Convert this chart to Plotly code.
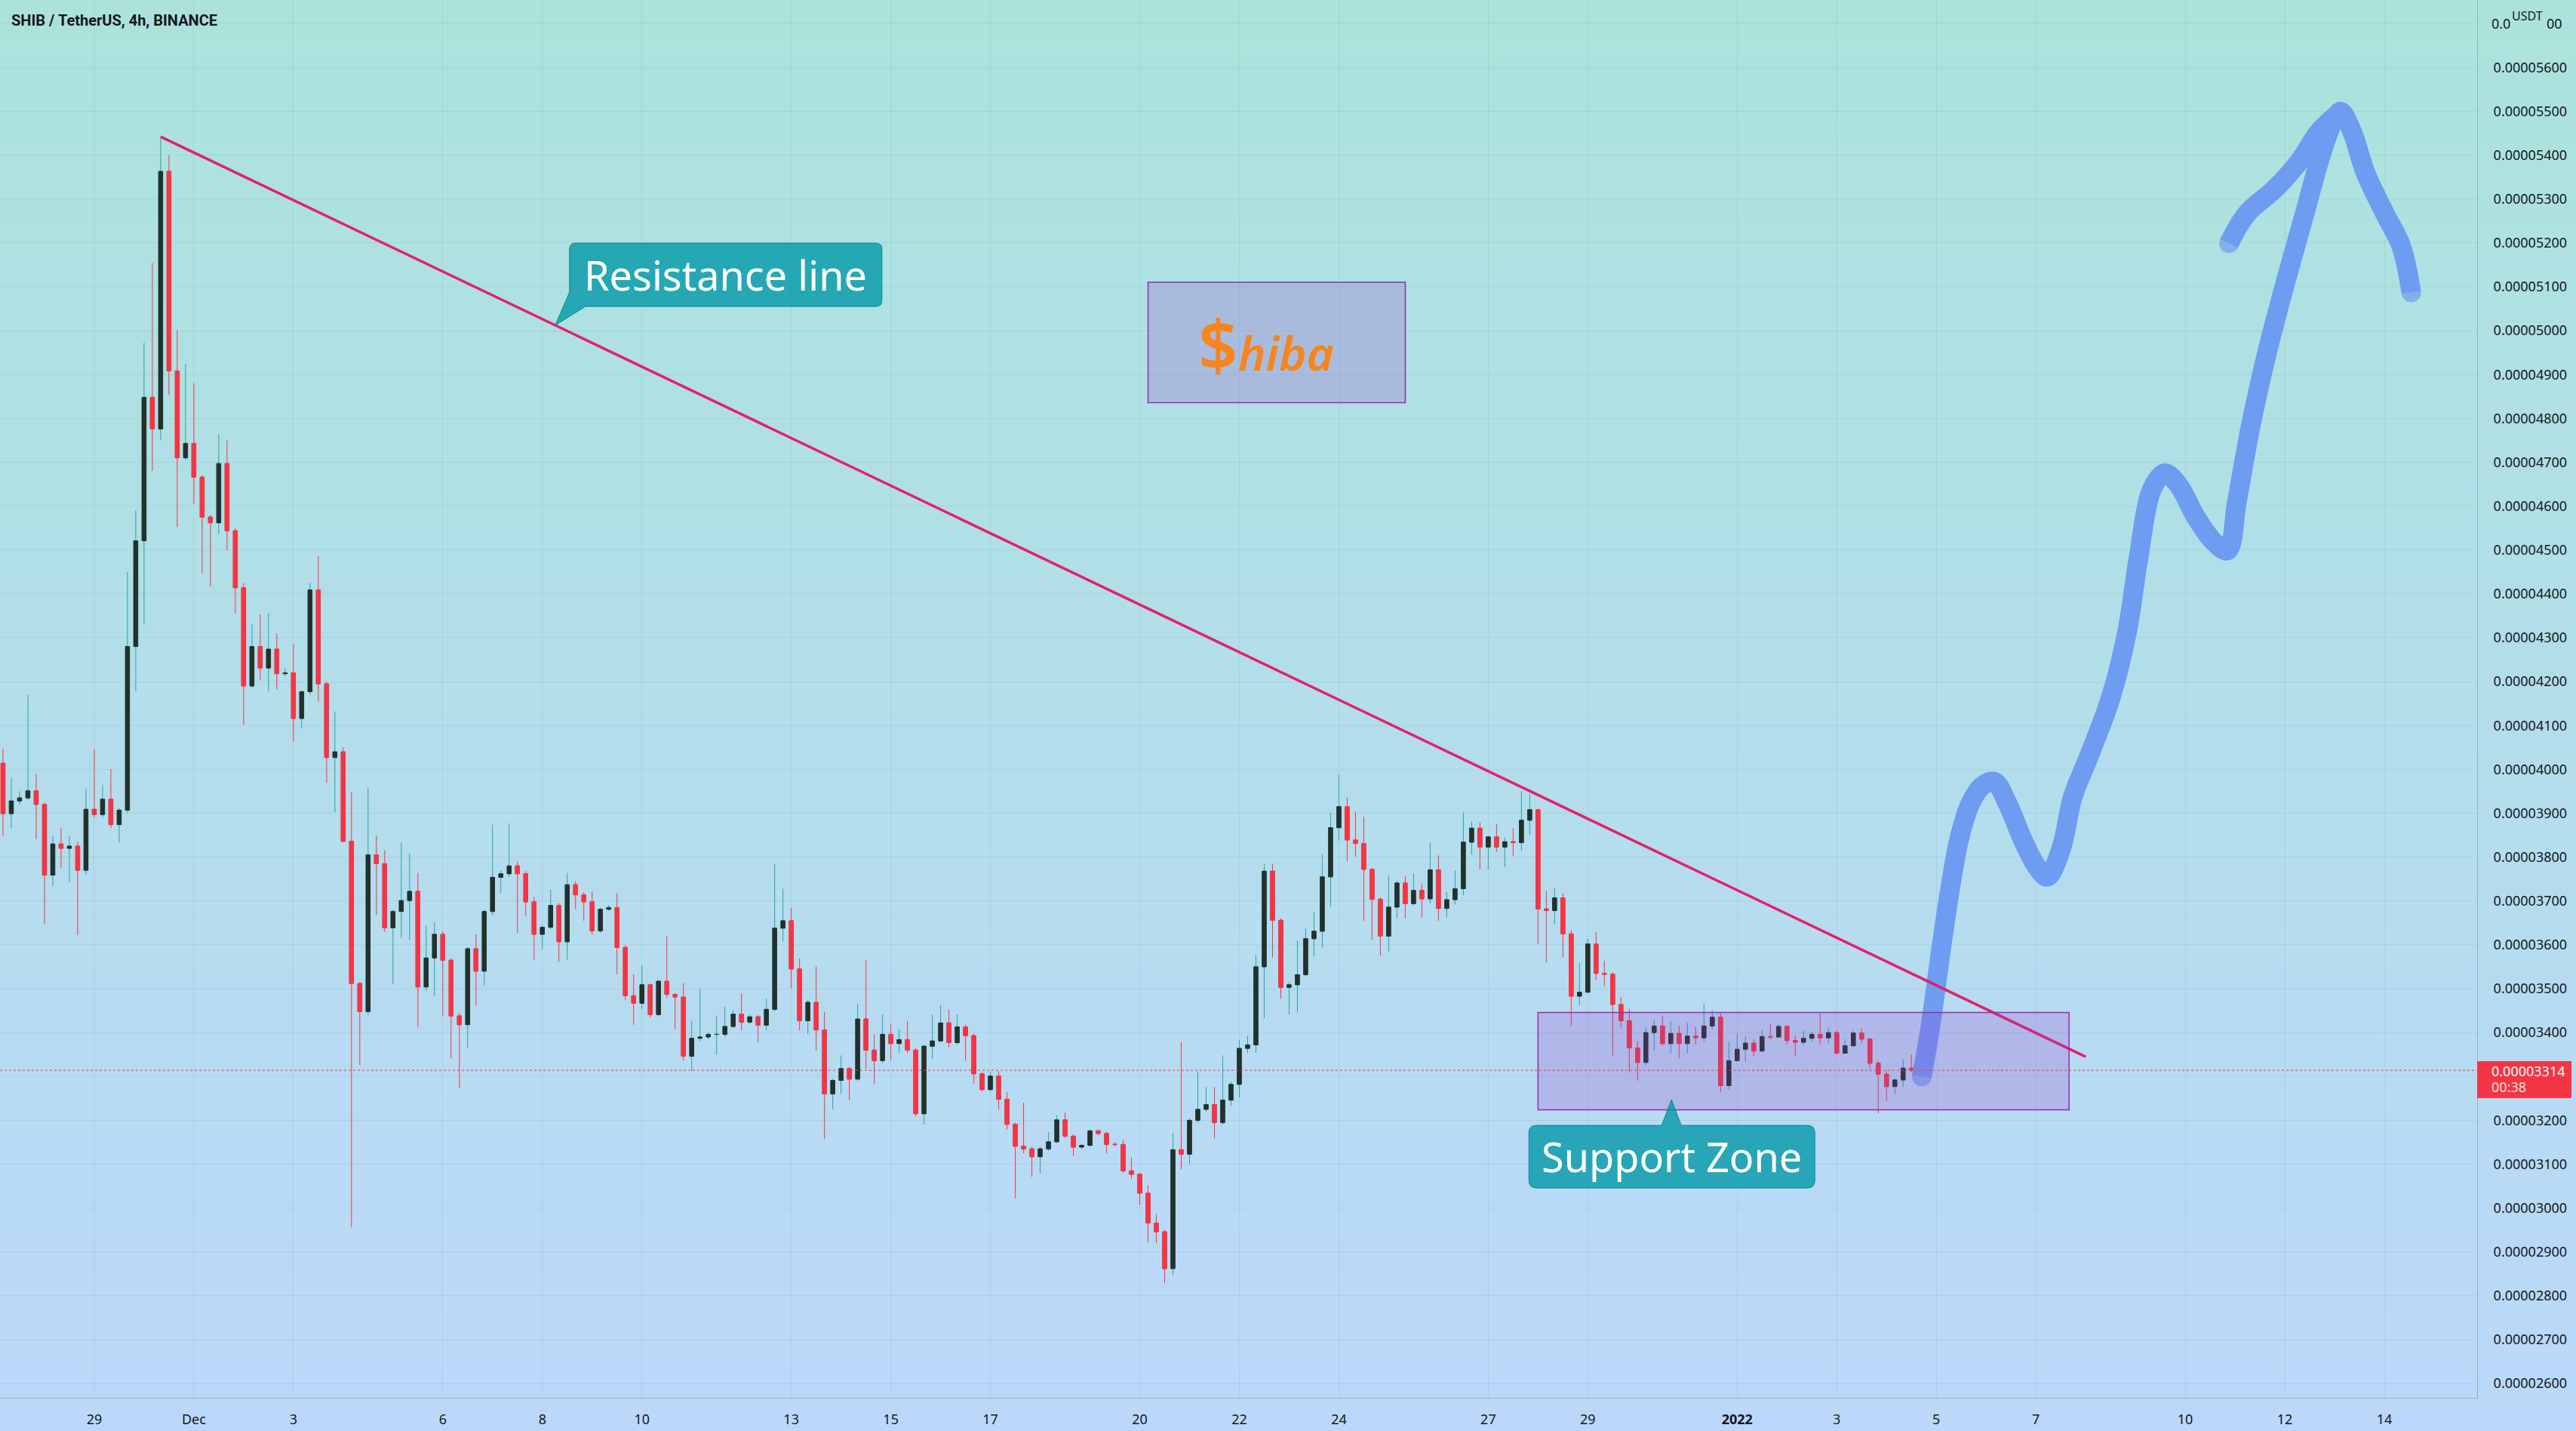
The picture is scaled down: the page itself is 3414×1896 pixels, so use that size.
import numpy as np
import pandas as pd
import plotly.graph_objects as go

# ---------------- data (prices in units of 1e-8 USDT) ----------------
first_candle = "2021-11-27 04:00"   # 4h bars, SHIB/USDT Binance

open_e8 = [
    4014, 3899, 3928, 3935, 3951, 3920, 3759, 3830, 3820, 3825,
    3770, 3909, 3897, 3932, 3874, 3907, 4280, 4521, 4848, 4776,
    5363, 4908, 4710, 4743, 4666, 4575, 4562, 4697, 4544, 4414,
    4190, 4280, 4231, 4274, 4218, 4220, 4116, 4177, 4409, 4195,
    4027, 4040, 3836, 3512, 3448, 3805, 3785, 3639, 3676, 3701,
    3722, 3504, 3570, 3624, 3565, 3438, 3418, 3591, 3540, 3676,
    3754, 3762, 3780, 3762, 3698, 3624, 3640, 3690, 3607, 3737,
    3714, 3698, 3632, 3681, 3685, 3594, 3484, 3467, 3509, 3441,
    3517, 3487, 3481, 3346, 3387, 3390, 3396, 3396, 3414, 3442,
    3424, 3436, 3417, 3453, 3638, 3655, 3545, 3427, 3469, 3406,
    3260, 3291, 3318, 3294, 3431, 3360, 3336, 3396, 3375, 3384,
    3360, 3215, 3369, 3381, 3422, 3377, 3413, 3393, 3306, 3270,
    3301, 3248, 3191, 3141, 3135, 3117, 3135, 3151, 3201, 3164,
    3139, 3143, 3176, 3170, 3145, 3145, 3085, 3077, 3034, 2966,
    2946, 2862, 3133, 3123, 3200, 3225, 3236, 3195, 3246, 3282,
    3364, 3372, 3550, 3768, 3656, 3503, 3509, 3532, 3614, 3631,
    3755, 3867, 3915, 3839, 3831, 3772, 3704, 3620, 3686, 3741,
    3694, 3724, 3705, 3771, 3683, 3703, 3728, 3834, 3866, 3823,
    3846, 3823, 3835, 3833, 3884, 3908, 3682, 3678, 3707, 3625,
    3483, 3492, 3602, 3535, 3533, 3464, 3427, 3365, 3332, 3400,
    3415, 3375, 3398, 3375, 3392, 3388, 3415, 3435, 3279, 3336,
    3362, 3376, 3358, 3391, 3390, 3414, 3382, 3378, 3387, 3396,
    3388, 3400, 3353, 3370, 3399, 3385, 3330, 3305, 3277, 3292,
    3319,
]
high_e8 = [
    4047, 3981, 3950, 4170, 3989, 3925, 3849, 3866, 3849, 3835,
    3956, 4047, 3965, 4001, 3912, 4450, 4590, 4972, 5154, 5441,
    5400, 5001, 4924, 4880, 4670, 4580, 4763, 4750, 4550, 4425,
    4331, 4353, 4356, 4310, 4230, 4285, 4180, 4425, 4486, 4200,
    4132, 4050, 3948, 3515, 3958, 3849, 3816, 3680, 3833, 3808,
    3764, 3644, 3652, 3630, 3570, 3445, 3595, 3624, 3680, 3874,
    3770, 3877, 3790, 3768, 3710, 3645, 3726, 3695, 3764, 3745,
    3720, 3722, 3685, 3690, 3718, 3600, 3533, 3553, 3512, 3520,
    3619, 3490, 3513, 3427, 3501, 3400, 3439, 3459, 3451, 3489,
    3440, 3440, 3478, 3785, 3728, 3684, 3569, 3475, 3551, 3448,
    3295, 3348, 3322, 3465, 3565, 3396, 3441, 3421, 3408, 3427,
    3365, 3372, 3441, 3463, 3453, 3441, 3418, 3398, 3310, 3312,
    3312, 3264, 3195, 3240, 3140, 3140, 3173, 3212, 3218, 3168,
    3147, 3179, 3179, 3174, 3150, 3155, 3115, 3080, 3052, 2986,
    2950, 3171, 3378, 3205, 3312, 3276, 3276, 3348, 3288, 3384,
    3393, 3577, 3785, 3785, 3660, 3515, 3610, 3638, 3674, 3807,
    3901, 3988, 3936, 3903, 3892, 3775, 3708, 3758, 3745, 3756,
    3763, 3740, 3833, 3804, 3720, 3770, 3902, 3881, 3879, 3848,
    3875, 3844, 3866, 3950, 3944, 3910, 3723, 3730, 3717, 3634,
    3558, 3614, 3629, 3564, 3537, 3481, 3454, 3380, 3411, 3428,
    3439, 3425, 3416, 3422, 3413, 3465, 3451, 3444, 3379, 3397,
    3392, 3385, 3405, 3421, 3419, 3417, 3393, 3405, 3402, 3444,
    3411, 3405, 3385, 3405, 3409, 3388, 3336, 3313, 3296, 3339,
    3350,
]
low_e8 = [
    3849, 3866, 3920, 3930, 3841, 3647, 3734, 3775, 3742, 3622,
    3760, 3890, 3890, 3866, 3833, 3900, 4178, 4330, 4680, 4750,
    4853, 4552, 4705, 4606, 4447, 4417, 4536, 4499, 4355, 4101,
    4185, 4203, 4178, 4182, 4212, 4063, 4093, 4170, 4154, 3969,
    3902, 3833, 2956, 3326, 3440, 3668, 3630, 3510, 3616, 3611,
    3412, 3495, 3484, 3438, 3342, 3273, 3364, 3462, 3507, 3668,
    3718, 3755, 3627, 3665, 3565, 3589, 3635, 3561, 3566, 3681,
    3655, 3624, 3627, 3678, 3533, 3474, 3418, 3454, 3435, 3436,
    3479, 3408, 3336, 3312, 3380, 3385, 3350, 3390, 3410, 3405,
    3420, 3378, 3405, 3448, 3608, 3501, 3405, 3396, 3360, 3157,
    3225, 3260, 3246, 3290, 3318, 3282, 3330, 3336, 3354, 3354,
    3209, 3191, 3340, 3378, 3366, 3373, 3336, 3284, 3266, 3266,
    3224, 3179, 3022, 3125, 3071, 3079, 3130, 3148, 3160, 3119,
    3135, 3140, 3166, 3125, 3140, 3080, 3067, 3007, 2922, 2920,
    2829, 2847, 3089, 3101, 3195, 3220, 3159, 3190, 3233, 3252,
    3354, 3354, 3433, 3571, 3477, 3441, 3448, 3528, 3574, 3593,
    3686, 3837, 3791, 3801, 3655, 3612, 3576, 3585, 3661, 3660,
    3690, 3663, 3694, 3655, 3663, 3692, 3713, 3805, 3772, 3772,
    3812, 3777, 3803, 3814, 3850, 3602, 3560, 3647, 3571, 3415,
    3462, 3490, 3520, 3506, 3348, 3411, 3310, 3290, 3325, 3359,
    3370, 3353, 3342, 3353, 3373, 3379, 3407, 3264, 3270, 3334,
    3334, 3346, 3355, 3385, 3389, 3373, 3346, 3371, 3379, 3373,
    3376, 3350, 3352, 3367, 3376, 3319, 3216, 3244, 3260, 3276,
    3310,
]
close_e8 = [
    3899, 3928, 3935, 3951, 3920, 3759, 3830, 3820, 3825, 3770,
    3909, 3897, 3932, 3874, 3907, 4280, 4521, 4848, 4776, 5363,
    4908, 4710, 4743, 4666, 4575, 4562, 4697, 4544, 4414, 4190,
    4280, 4231, 4274, 4218, 4220, 4116, 4177, 4409, 4195, 4027,
    4040, 3836, 3512, 3448, 3805, 3785, 3639, 3676, 3701, 3722,
    3504, 3570, 3624, 3565, 3438, 3418, 3591, 3540, 3676, 3754,
    3762, 3780, 3762, 3698, 3624, 3640, 3690, 3607, 3737, 3714,
    3698, 3632, 3681, 3685, 3594, 3484, 3467, 3509, 3441, 3517,
    3487, 3481, 3346, 3387, 3390, 3396, 3396, 3414, 3442, 3424,
    3436, 3417, 3453, 3638, 3655, 3545, 3427, 3469, 3406, 3260,
    3291, 3318, 3294, 3431, 3360, 3336, 3396, 3375, 3384, 3360,
    3215, 3369, 3381, 3422, 3377, 3413, 3393, 3306, 3270, 3301,
    3248, 3191, 3141, 3135, 3117, 3135, 3151, 3201, 3164, 3139,
    3143, 3176, 3170, 3145, 3145, 3085, 3077, 3034, 2966, 2946,
    2862, 3133, 3123, 3200, 3225, 3236, 3195, 3246, 3282, 3364,
    3372, 3550, 3768, 3656, 3503, 3509, 3532, 3614, 3631, 3755,
    3867, 3915, 3839, 3831, 3772, 3704, 3620, 3686, 3741, 3694,
    3724, 3705, 3771, 3683, 3703, 3728, 3834, 3866, 3823, 3846,
    3823, 3835, 3833, 3884, 3908, 3682, 3678, 3707, 3625, 3483,
    3492, 3602, 3535, 3533, 3464, 3427, 3365, 3332, 3400, 3415,
    3375, 3398, 3375, 3392, 3388, 3415, 3435, 3279, 3336, 3362,
    3376, 3358, 3391, 3390, 3414, 3382, 3378, 3387, 3396, 3388,
    3400, 3353, 3370, 3399, 3385, 3330, 3305, 3277, 3292, 3319,
    3314,
]
last_price_e8 = 3314
countdown_text = "00:38"

# resistance trend line (two anchor points)
resistance_time = ["2021-11-30 08:00", "2022-01-08 00:00"]
resistance_e8 = [5442, 3345]

# support zone rectangle
support_time = ["2021-12-28 00:00", "2022-01-07 16:00"]
support_e8 = [3224, 3446]

# "$hiba" logo rectangle
logo_time = ["2021-12-20 04:00", "2021-12-25 08:00"]
logo_e8 = [4836, 5110]
logo_text_time = "2021-12-22 13:05"
logo_text_e8 = 4970

# hand-drawn projection arrow
arrow_time = [
    "2022-01-04 17:00", "2022-01-04 20:00", "2022-01-04 22:35", "2022-01-05 02:00",
    "2022-01-05 06:30", "2022-01-05 11:00", "2022-01-05 16:20", "2022-01-05 22:00",
    "2022-01-06 04:00", "2022-01-06 10:05", "2022-01-06 18:00", "2022-01-07 00:29",
    "2022-01-07 05:30", "2022-01-07 12:14", "2022-01-07 17:46", "2022-01-08 01:41",
    "2022-01-08 12:00", "2022-01-08 19:55", "2022-01-09 01:26", "2022-01-09 07:55",
    "2022-01-09 14:10", "2022-01-09 20:38", "2022-01-10 05:17", "2022-01-10 13:55",
    "2022-01-10 20:24", "2022-01-11 00:58", "2022-01-11 07:26", "2022-01-11 15:22",
    "2022-01-12 00:43", "2022-01-12 09:36", "2022-01-12 17:17", "2022-01-12 23:02",
    "2022-01-13 02:53", "2022-01-13 08:24", "2022-01-13 14:53", "2022-01-14 00:14",
    "2022-01-14 08:10", "2022-01-14 12:58",
]
arrow_e8 = [
    3300, 3380, 3460, 3580, 3723, 3840, 3921, 3962, 3972, 3925,
    3836, 3778, 3755, 3820, 3937, 4031, 4162, 4312, 4480, 4638,
    4675, 4649, 4574, 4518, 4499, 4611, 4780, 4948, 5117, 5267,
    5398, 5473, 5499, 5454, 5360, 5267, 5192, 5087,
]
wing_time = ["2022-01-10 21:07", "2022-01-11 05:46", "2022-01-11 19:12",
             "2022-01-12 07:12", "2022-01-12 16:34", "2022-01-13 02:53"]
wing_e8 = [5199, 5267, 5323, 5387, 5454, 5499]

# callout labels (anchor = tip of the callout pointer)
resist_note = "Resistance line"
resist_note_time = "2021-12-08 06:12"
resist_note_e8 = 5012
support_note = "Support Zone"
support_note_time = "2021-12-30 16:20"
support_note_e8 = 3247

# axis ticks
x_tick_dates = ["2021-11-29", "2021-12-01", "2021-12-03", "2021-12-06", "2021-12-08",
                "2021-12-10", "2021-12-13", "2021-12-15", "2021-12-17", "2021-12-20",
                "2021-12-22", "2021-12-24", "2021-12-27", "2021-12-29", "2022-01-01",
                "2022-01-03", "2022-01-05", "2022-01-07", "2022-01-10", "2022-01-12",
                "2022-01-14"]
x_tick_text = ["29", "Dec", "3", "6", "8", "10", "13", "15", "17", "20", "22", "24",
               "27", "29", "<b>2022</b>", "3", "5", "7", "10", "12", "14"]
# price-scale labels (0.00003300 is hidden behind the last-price tag,
# 0.00005700 is split around the "USDT" unit label)
y_tick_e8 = [2600, 2700, 2800, 2900, 3000, 3100, 3200, 3400, 3500, 3600, 3700,
             3800, 3900, 4000, 4100, 4200, 4300, 4400, 4500, 4600, 4700, 4800, 4900,
             5000, 5100, 5200, 5300, 5400, 5500, 5600]
hidden_grid_e8 = [3300, 5700]
top_label_e8 = 5700
top_label_parts = ["0.0", "00"]

title_text = "SHIB / TetherUS, 4h, BINANCE"
axis_unit = "USDT"

# ---------------- conversion ----------------
E8 = 1e-8
t = pd.date_range(first_candle, periods=len(open_e8), freq="4h")
o = np.array(open_e8) * E8
h = np.array(high_e8) * E8
l = np.array(low_e8) * E8
c = np.array(close_e8) * E8

# ---------------- styling ----------------
W, H = 3414, 1896
M_R, M_B = 131, 44
PLOT_W, PLOT_H = W - M_R, H - M_B
UP_BODY = "#24302c"
UP_WICK = "#26a69a"
DOWN = "#f23645"
TEXT = "#131722"
bg_top = np.array([171, 227, 219])
bg_bot = np.array([187, 216, 250])
GRID = "rgba(20,70,90,0.07)"

fig = go.Figure()

# wicks (full range)
fig.add_trace(go.Candlestick(
    x=t, open=o, high=h, low=l, close=c,
    increasing=dict(line=dict(color=UP_WICK, width=1), fillcolor=UP_BODY),
    decreasing=dict(line=dict(color=DOWN, width=1), fillcolor=DOWN),
    whiskerwidth=0, hoverinfo="skip", showlegend=False,
))
# bodies drawn on top so their outline matches the fill
fig.add_trace(go.Candlestick(
    x=t, open=o, close=c, high=np.maximum(o, c), low=np.minimum(o, c),
    increasing=dict(line=dict(color=UP_BODY, width=1), fillcolor=UP_BODY),
    decreasing=dict(line=dict(color=DOWN, width=1), fillcolor=DOWN),
    whiskerwidth=0, hoverinfo="skip", showlegend=False,
))

ARROW = "#6e9cf1"
AW = 26
for xs, ys in ((arrow_time, arrow_e8), (wing_time, wing_e8)):
    n = len(xs)
    sizes = [AW if i in (0, n - 1) else 0 for i in range(n)]
    fig.add_trace(go.Scatter(
        x=pd.to_datetime(xs), y=np.array(ys) * E8, mode="lines+markers",
        line=dict(color=ARROW, width=AW, shape="spline", smoothing=1.0),
        marker=dict(size=sizes, color=ARROW, line=dict(width=0)),
        hoverinfo="skip", showlegend=False,
    ))

fig.add_trace(go.Scatter(
    x=pd.to_datetime(resistance_time), y=np.array(resistance_e8) * E8, mode="lines",
    line=dict(color="#e3206a", width=3.5), hoverinfo="skip", showlegend=False,
))

shapes = []
# vertical background gradient across the whole figure
n_bands = 72
y_lo = -M_B / PLOT_H
band = (1.0 - y_lo) / n_bands
for i in range(n_bands):
    f = (i + 0.5) / n_bands
    col = bg_bot + (bg_top - bg_bot) * f
    shapes.append(dict(
        type="rect", xref="paper", yref="paper", layer="below",
        x0=-0.01, x1=W / PLOT_W + 0.01,
        y0=y_lo + i * band, y1=y_lo + (i + 1) * band + band * 0.2,
        fillcolor="rgb(%d,%d,%d)" % tuple(np.round(col)), line=dict(width=0),
    ))
# grid lines for price levels whose labels are not regular ticks
for g in hidden_grid_e8:
    shapes.append(dict(
        type="line", xref="paper", yref="y", layer="below",
        x0=0, x1=1, y0=g * E8, y1=g * E8, line=dict(color=GRID, width=1),
    ))

# support zone + logo box
for xs, ys in ((support_time, support_e8), (logo_time, logo_e8)):
    shapes.append(dict(
        type="rect", xref="x", yref="y", layer="above",
        x0=xs[0], x1=xs[1], y0=ys[0] * E8, y1=ys[1] * E8,
        fillcolor="rgba(150,60,200,0.22)", line=dict(color="#9c27b0", width=1.5),
    ))

# current price dotted line
shapes.append(dict(
    type="line", xref="paper", yref="y", layer="above",
    x0=0, x1=1, y0=last_price_e8 * E8, y1=last_price_e8 * E8,
    line=dict(color=DOWN, width=1, dash="dot"),
))

CALL_FILL = "rgba(0,151,167,0.78)"
CALL_LINE = "rgba(0,131,143,0.9)"
# resistance callout bubble (pixel path relative to pointer tip)
shapes.append(dict(
    type="path", xref="x", yref="y", layer="above",
    xsizemode="pixel", ysizemode="pixel",
    xanchor=resist_note_time, yanchor=resist_note_e8 * E8,
    path="M0,0 L19,44 L19,101 Q19,109 27,109 L425,109 Q433,109 433,101 "
         "L433,33 Q433,25 425,25 L40,25 Z",
    fillcolor=CALL_FILL, line=dict(color=CALL_LINE, width=1),
))
# support callout bubble
shapes.append(dict(
    type="path", xref="x", yref="y", layer="above",
    xsizemode="pixel", ysizemode="pixel",
    xanchor=support_note_time, yanchor=support_note_e8 * E8,
    path="M0,0 L13,-34 L180,-34 Q190,-34 190,-44 L190,-107 Q190,-117 180,-117 "
         "L-179,-117 Q-189,-117 -189,-107 L-189,-44 Q-189,-34 -179,-34 L-13,-34 Z",
    fillcolor=CALL_FILL, line=dict(color=CALL_LINE, width=1),
))
# last price label on the price scale
shapes.append(dict(
    type="rect", xref="paper", yref="y", layer="above",
    ysizemode="pixel", yanchor=last_price_e8 * E8,
    x0=1.0, x1=3408 / PLOT_W, y0=-37, y1=12,
    fillcolor=DOWN, line=dict(width=0),
))

AX_FONT = dict(family="Noto Sans", size=18, color=TEXT)
annotations = [
    dict(text=title_text, xref="paper", yref="paper", x=13 / PLOT_W, y=1 - 27 / PLOT_H,
         xanchor="left", yanchor="middle", showarrow=False,
         font=dict(family="Roboto", size=20, color=TEXT, weight=700)),
    # top price label, split around the unit label
    dict(text=top_label_parts[0], xref="paper", yref="y", x=1.0, y=top_label_e8 * E8,
         xshift=17, xanchor="left", yanchor="middle", showarrow=False, font=AX_FONT),
    dict(text=top_label_parts[1], xref="paper", yref="y", x=1.0, y=top_label_e8 * E8,
         xshift=115, xanchor="right", yanchor="middle", showarrow=False, font=AX_FONT),
    dict(text=axis_unit, xref="paper", yref="paper", x=3349 / PLOT_W, y=1 - 21 / PLOT_H,
         xanchor="center", yanchor="middle", showarrow=False,
         font=dict(family="Noto Sans", size=16, color=TEXT)),
    dict(text=resist_note, x=resist_note_time, y=resist_note_e8 * E8, xref="x", yref="y",
         xshift=226, yshift=67, showarrow=False, xanchor="center", yanchor="middle",
         font=dict(family="Noto Sans", size=54, color="white")),
    dict(text=support_note, x=support_note_time, y=support_note_e8 * E8, xref="x", yref="y",
         xshift=0, yshift=-75, showarrow=False, xanchor="center", yanchor="middle",
         font=dict(family="Noto Sans", size=54, color="white")),
    dict(text='<span style="font-size:92px">$</span><i>hiba</i>',
         x=logo_text_time, y=logo_text_e8 * E8, xref="x", yref="y",
         showarrow=False, xanchor="center", yanchor="middle",
         font=dict(family="Noto Sans", size=62, color="#f5861f", weight=600)),
    dict(text="%.8f" % (last_price_e8 * E8), xref="paper", yref="y", x=1.0,
         y=last_price_e8 * E8, xshift=17, yshift=-1, xanchor="left", yanchor="middle",
         showarrow=False, font=dict(family="Noto Sans", size=18, color="white")),
    dict(text=countdown_text, xref="paper", yref="y", x=1.0,
         y=last_price_e8 * E8, xshift=17, yshift=-22, xanchor="left", yanchor="middle",
         showarrow=False, font=dict(family="Noto Sans", size=18, color="rgba(255,255,255,0.85)")),
]

fig.update_layout(
    width=W, height=H, autosize=False,
    margin=dict(l=0, r=M_R, t=0, b=M_B, pad=0),
    paper_bgcolor="rgb(179,221,235)", plot_bgcolor="rgba(0,0,0,0)",
    showlegend=False, hovermode=False, dragmode=False,
    shapes=shapes, annotations=annotations,
    xaxis=dict(
        type="date", range=["2021-11-27 02:33", "2022-01-15 20:44"],
        rangeslider=dict(visible=False), automargin=False,
        tickvals=pd.to_datetime(x_tick_dates), ticktext=x_tick_text,
        ticks="", ticklabelstandoff=12,
        tickfont=AX_FONT,
        showgrid=True, gridcolor=GRID, gridwidth=1, zeroline=False,
        showline=True, linecolor="rgba(70,100,130,0.35)", linewidth=1, mirror=False,
    ),
    yaxis=dict(
        side="right", range=[2567.6 * E8, 5753.6 * E8], automargin=False,
        tickvals=np.array(y_tick_e8) * E8, tickformat=".8f",
        ticks="", ticklabelstandoff=17,
        tickfont=AX_FONT,
        showgrid=True, gridcolor=GRID, gridwidth=1, zeroline=False,
        showline=True, linecolor="rgba(70,100,130,0.35)", linewidth=1,
    ),
)

fig.write_html(
    "out.html", include_plotlyjs=True, full_html=True,
    config=dict(displayModeBar=False, staticPlot=True),
    post_script="document.body.style.margin='0';document.body.style.overflow='hidden';",
)
